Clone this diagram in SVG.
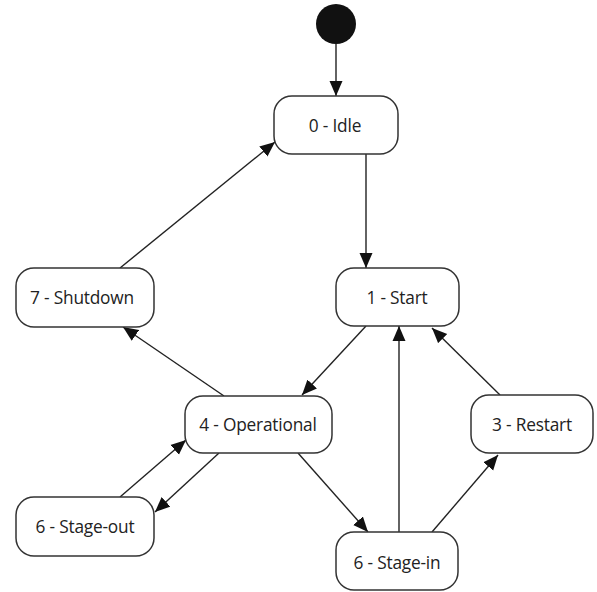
<svg xmlns="http://www.w3.org/2000/svg" width="597" height="592" viewBox="0 0 597 592">
<style>
.node rect{fill:#fff;stroke:#333;stroke-width:1.5}
.node text{font-family:"Open Sans","Noto Sans",sans-serif;font-size:17.3px;fill:#222;text-anchor:middle;dominant-baseline:central;letter-spacing:-0.2px}
.edges line{stroke:#222;stroke-width:1.4;marker-end:url(#arr)}
</style>
<defs>
<marker id="arr" markerUnits="userSpaceOnUse" markerWidth="15" markerHeight="14" refX="15" refY="7" orient="auto">
<path d="M0,0.5 L15,7 L0,13.5 z" fill="#111"/>
</marker>
</defs>
<rect width="597" height="592" fill="#fff"/>
<g id="initial"><circle cx="336" cy="24" r="20" fill="#111"/></g>
<g class="edges" id="connectors">
<line x1="336" y1="44" x2="336" y2="96"/>
<line x1="366" y1="154" x2="366" y2="268"/>
<line x1="120" y1="268" x2="275" y2="142"/>
<line x1="224" y1="396" x2="123" y2="327"/>
<line x1="366" y1="326" x2="302" y2="395"/>
<line x1="399" y1="532" x2="399" y2="326"/>
<line x1="432" y1="532" x2="498" y2="455"/>
<line x1="500" y1="395" x2="432" y2="328"/>
<line x1="298" y1="453" x2="368" y2="532"/>
<line x1="120" y1="497" x2="186" y2="440"/>
<line x1="219" y1="453" x2="155" y2="512"/>
</g>
<g class="node" id="n0"><rect x="274" y="96" width="124" height="58" rx="18"/><text x="335" y="125">0 - Idle</text></g>
<g class="node" id="n1"><rect x="336" y="268" width="123" height="58" rx="18"/><text x="397" y="297">1 - Start</text></g>
<g class="node" id="n7"><rect x="16" y="268" width="138" height="59" rx="18"/><text x="82" y="297">7 - Shutdown</text></g>
<g class="node" id="n4"><rect x="185" y="396" width="147" height="57" rx="18"/><text x="258" y="424">4 - Operational</text></g>
<g class="node" id="n3"><rect x="471" y="395" width="122" height="58" rx="18"/><text x="532" y="424">3 - Restart</text></g>
<g class="node" id="n6out"><rect x="16" y="497" width="138" height="59" rx="18"/><text x="85" y="526">6 - Stage-out</text></g>
<g class="node" id="n6in"><rect x="336" y="532" width="122" height="58" rx="18"/><text x="397" y="562">6 - Stage-in</text></g>
</svg>
